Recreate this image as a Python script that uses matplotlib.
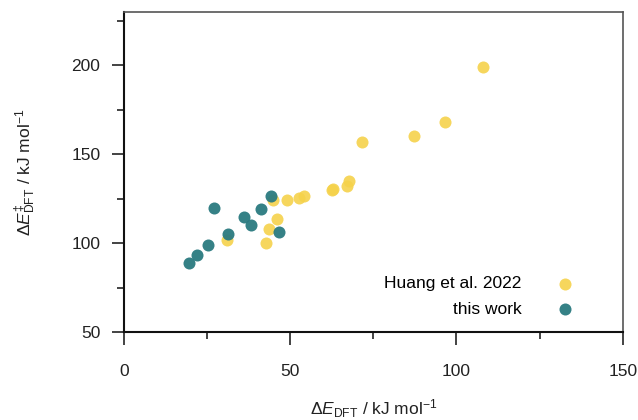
import matplotlib
matplotlib.use('Agg')
import matplotlib.pyplot as plt
from matplotlib.ticker import MultipleLocator

plt.rcParams['font.family'] = ['Liberation Sans', 'DejaVu Sans']
plt.rcParams['mathtext.fontset'] = 'custom'
plt.rcParams['mathtext.rm'] = 'Liberation Sans'
plt.rcParams['mathtext.it'] = 'Liberation Sans:italic'

# Huang et al. 2022
huang_x = [30.9, 42.6, 43.6, 46.0, 44.8, 49.0, 52.5, 54.0, 62.5, 63.0, 67.0, 67.7, 71.5, 87.1, 96.6, 108.1]
huang_y = [101.7, 100.0, 107.9, 113.6, 124.5, 124.1, 125.4, 126.5, 129.7, 130.3, 132.5, 134.9, 157.0, 160.5, 168.4, 199.2]
# this work
work_x = [19.6, 21.9, 25.4, 27.2, 31.4, 36.1, 38.2, 41.3, 44.1, 46.6]
work_y = [89.0, 93.7, 98.9, 119.8, 105.5, 114.8, 110.1, 119.1, 126.4, 106.2]

yellow = '#f5d24b'
teal = '#2a7a80'

fig = plt.figure(figsize=(6.38, 4.20), dpi=100)
ax = fig.add_axes([0.1944, 0.2088, 0.7816, 0.7626])

ax.scatter(huang_x, huang_y, s=75, color=yellow, alpha=0.9, linewidths=0, label='Huang et al. 2022', zorder=2)
ax.scatter(work_x, work_y, s=75, color=teal, alpha=0.95, linewidths=0, label='this work', zorder=3)

ax.set_xlim(0, 150)
ax.set_ylim(50, 230)
ax.xaxis.set_major_locator(MultipleLocator(50))
ax.xaxis.set_minor_locator(MultipleLocator(25))
ax.yaxis.set_major_locator(MultipleLocator(50))
ax.yaxis.set_minor_locator(MultipleLocator(25))

ax.tick_params(which='major', direction='out', length=9, width=1.2, labelsize=12.5,
               colors='#222222')
ax.tick_params(axis='x', which='major', pad=14)
ax.tick_params(axis='y', which='major', pad=8)
ax.tick_params(which='minor', direction='out', length=5, width=1.2, colors='#222222')

for s in ['left', 'bottom']:
    ax.spines[s].set_color('#111111')
    ax.spines[s].set_linewidth(1.5)
for s in ['top', 'right']:
    ax.spines[s].set_color('#555555')
    ax.spines[s].set_linewidth(1.2)

ax.set_xlabel(r'$\mathit{\Delta E}_{\mathrm{DFT}}$ / kJ mol$^{\mathrm{-1}}$', fontsize=12.5,
              color='#222222', labelpad=13)
ax.set_ylabel('$\\mathit{\\Delta E}^{\\mathrm{\u2021}}_{\\mathrm{DFT}}$ / kJ mol$^{\\mathrm{-1}}$',
              fontsize=12.5, color='#222222', labelpad=24)

ax.legend(loc='lower right', frameon=False, markerfirst=False, fontsize=12.5,
          bbox_to_anchor=(0.95, 0.0), handletextpad=1.5, labelspacing=0.6)

fig.savefig('out.png', dpi=100)
